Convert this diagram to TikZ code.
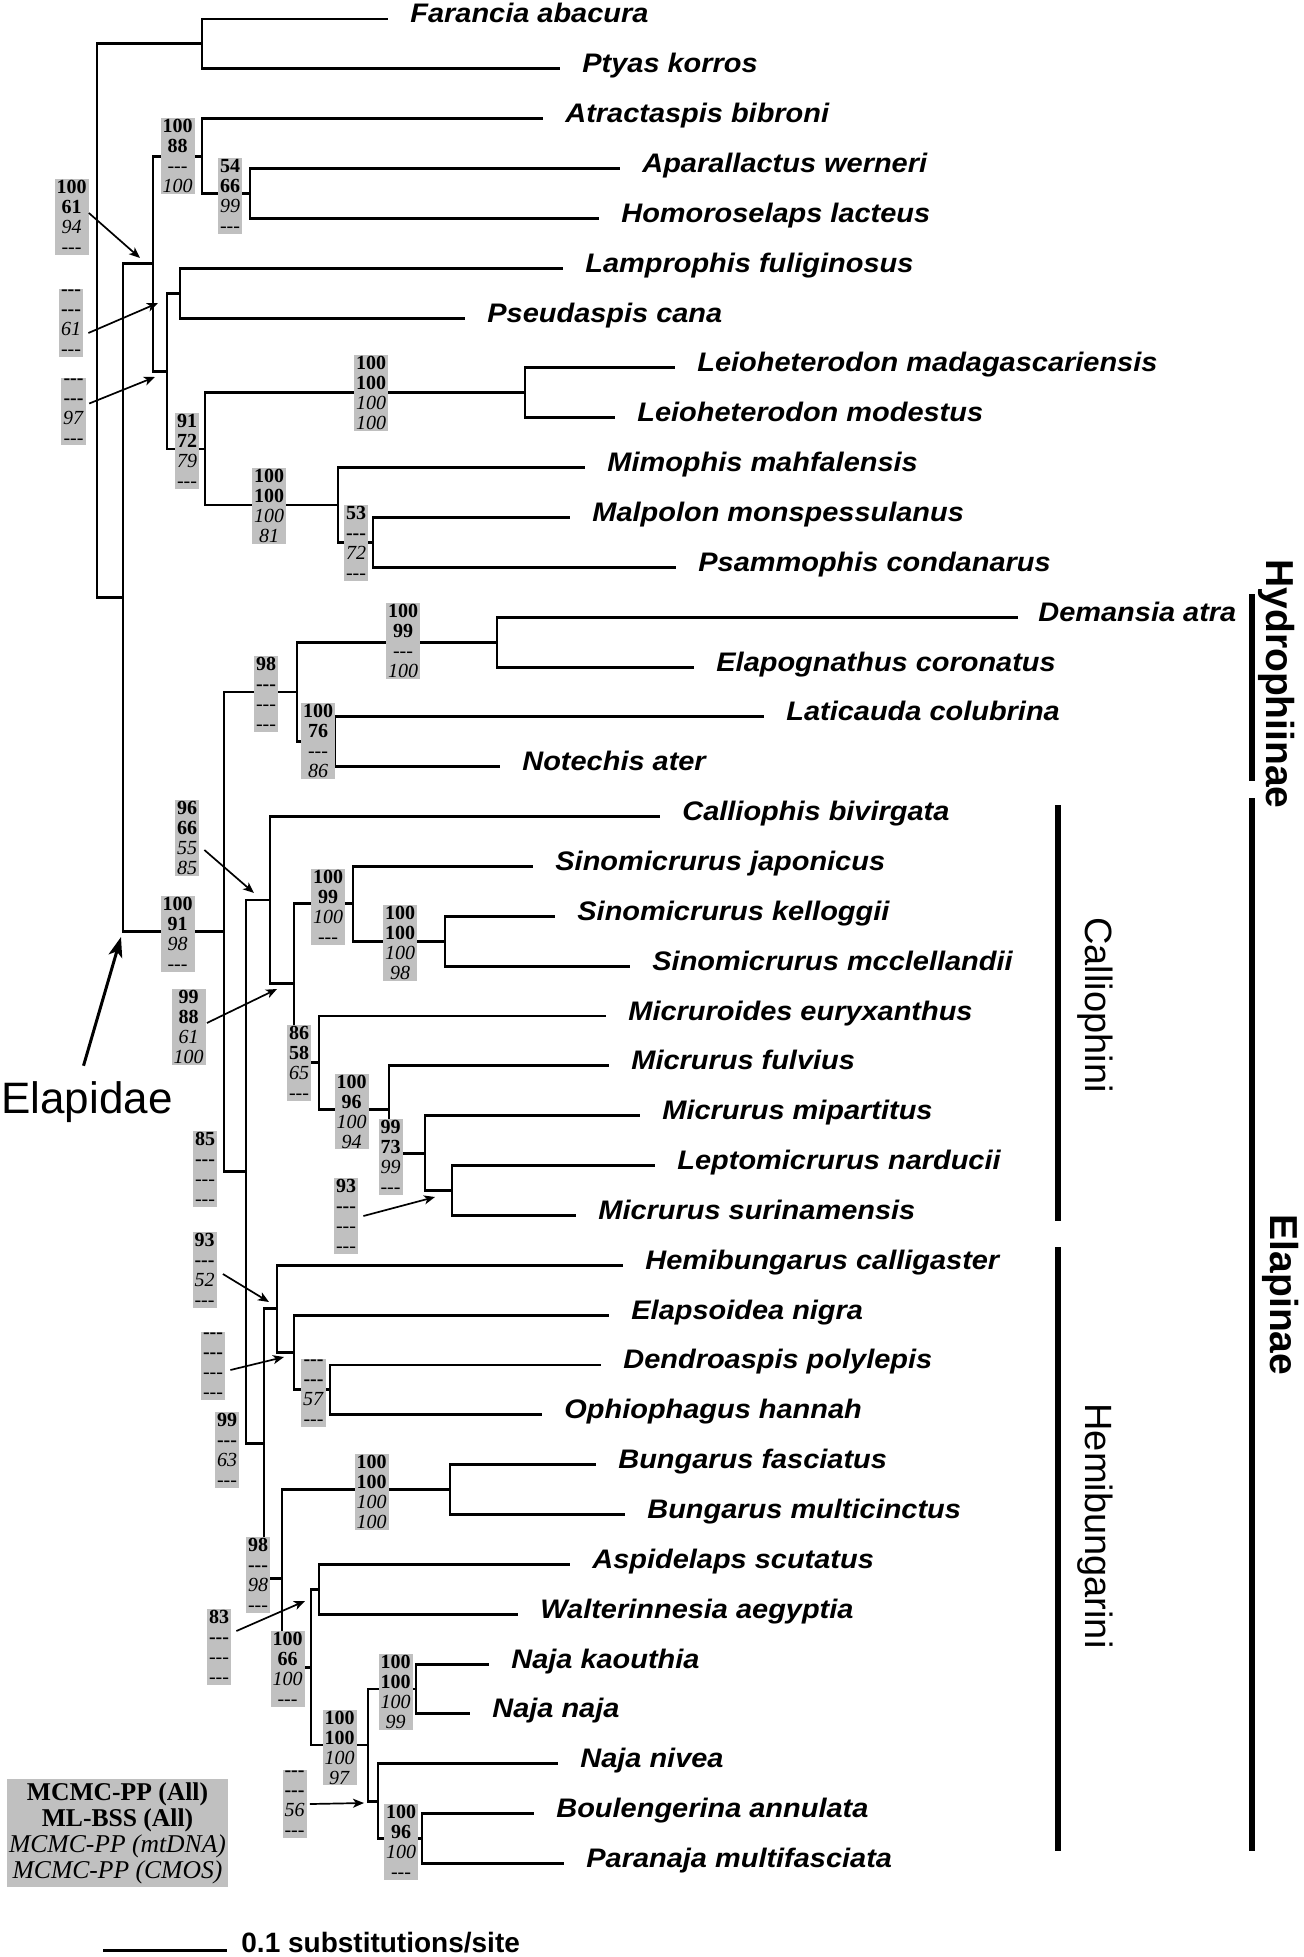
\documentclass[tikz,border=0pt]{standalone}
\usepackage{fontspec}
\setmainfont{Liberation Serif}
\newfontfamily\lsans{Liberation Sans}
\newfontfamily\tipsans{Liberation Sans}[FakeStretch=1.08]
\usetikzlibrary{arrows.meta}
\definecolor{boxgray}{RGB}{192,192,192}
\newcommand\dd{-\kern0pt-\kern0pt-}
\newcommand\tiplab[5]{%
  \coordinate (e#1) at (#2,#4);
  \node[tip] (t#1) at (#3,#4) {#5};}
\newcommand\bsbox[6]{\node[bs] (#1) at (#2) {\textbf{#3}\\\textbf{#4}\\\textit{#5}\\\textit{#6}};}
\tikzset{
  br/.style={line width=1.45pt, line join=miter},
  tip/.style={anchor=base west, yshift=-2pt, inner sep=0pt, font=\tipsans\bfseries\itshape\fontsize{13.4}{14}\selectfont},
  bs/.style={fill=boxgray, inner xsep=1pt, inner ysep=0.6pt, align=center, font=\fontsize{10}{10}\selectfont},
  sarrow/.style={line width=0.85pt, -{Stealth[length=5.5pt, width=4.5pt, inset=1.5pt]}},
  bigarrow/.style={line width=1.5pt, -{Stealth[length=10pt, width=7pt, inset=2.5pt]}},
  cbar/.style={line width=3pt},
  cladelab/.style={rotate=-90, anchor=base, inner sep=0pt, font=\lsans\fontsize{19}{20}\selectfont},
  cladelabb/.style={rotate=-90, anchor=base, inner sep=0pt, font=\lsans\bfseries\fontsize{19.5}{20}\selectfont},
}
\begin{document}
\begin{tikzpicture}[x=0.5pt, y=-0.5pt]
\useasboundingbox (0,0) rectangle (1304,1957);
% internal nodes
\coordinate (R) at (97,320.8);
\coordinate (FP) at (202,43.9);
\coordinate (N1) at (123,597.8);
\coordinate (NA) at (153,263.6);
\coordinate (Atr) at (202,156.1);
\coordinate (AH) at (250,193.5);
\coordinate (Lam) at (167,371.1);
\coordinate (LP) at (180,293.2);
\coordinate (LM) at (205,449);
\coordinate (Leio) at (525,392.9);
\coordinate (Psam) at (338,505);
\coordinate (MP) at (373,542.4);
\coordinate (E) at (224,931.9);
\coordinate (Hyd) at (297,692);
\coordinate (DE) at (497,642.1);
\coordinate (LN) at (335,741.8);
\coordinate (Elap) at (246,1171.8);
\coordinate (Call) at (270,900);
\coordinate (C2) at (294,983.3);
\coordinate (Sino) at (353,903.8);
\coordinate (SK) at (445,941.2);
\coordinate (Mic) at (319,1062.7);
\coordinate (MF) at (389,1109.5);
\coordinate (MM) at (425,1153.1);
\coordinate (LS) at (452,1190.5);
\coordinate (Hemi) at (264,1443.7);
\coordinate (H2) at (277,1308.9);
\coordinate (DO) at (294,1352.5);
\coordinate (DOp) at (330,1389.9);
\coordinate (H3) at (282,1578.4);
\coordinate (Bung) at (450,1489.6);
\coordinate (Naj) at (311,1667.2);
\coordinate (AW) at (319,1589.3);
\coordinate (N2) at (368,1745);
\coordinate (NK) at (416,1689);
\coordinate (N3) at (378,1801.1);
\coordinate (BP) at (422,1838.5);
% tips
\tiplab{0}{388}{410}{19}{Farancia abacura}
\tiplab{1}{560}{582}{68.85}{Ptyas korros}
\tiplab{2}{543}{565}{118.7}{Atractaspis bibroni}
\tiplab{3}{620}{642}{168.55}{Aparallactus werneri}
\tiplab{4}{599}{621}{218.4}{Homoroselaps lacteus}
\tiplab{5}{563}{585}{268.25}{Lamprophis fuliginosus}
\tiplab{6}{465}{487}{318.1}{Pseudaspis cana}
\tiplab{7}{675}{697}{367.95}{Leioheterodon madagascariensis}
\tiplab{8}{615}{637}{417.8}{Leioheterodon modestus}
\tiplab{9}{585}{607}{467.65}{Mimophis mahfalensis}
\tiplab{10}{570}{592}{517.5}{Malpolon monspessulanus}
\tiplab{11}{676}{698}{567.35}{Psammophis condanarus}
\tiplab{12}{1018}{1038}{617.2}{Demansia atra}
\tiplab{13}{694}{716}{667.05}{Elapognathus coronatus}
\tiplab{14}{764}{786}{716.9}{Laticauda colubrina}
\tiplab{15}{500}{522}{766.75}{Notechis ater}
\tiplab{16}{660}{682}{816.6}{Calliophis bivirgata}
\tiplab{17}{533}{555}{866.45}{Sinomicrurus japonicus}
\tiplab{18}{555}{577}{916.3}{Sinomicrurus kelloggii}
\tiplab{19}{630}{652}{966.15}{Sinomicrurus mcclellandii}
\tiplab{20}{606}{628}{1016}{Micruroides euryxanthus}
\tiplab{21}{609}{631}{1065.85}{Micrurus fulvius}
\tiplab{22}{640}{662}{1115.7}{Micrurus mipartitus}
\tiplab{23}{655}{677}{1165.55}{Leptomicrurus narducii}
\tiplab{24}{576}{598}{1215.4}{Micrurus surinamensis}
\tiplab{25}{623}{645}{1265.25}{Hemibungarus calligaster}
\tiplab{26}{609}{631}{1315.1}{Elapsoidea nigra}
\tiplab{27}{601}{623}{1364.95}{Dendroaspis polylepis}
\tiplab{28}{542}{564}{1414.8}{Ophiophagus hannah}
\tiplab{29}{596}{618}{1464.65}{Bungarus fasciatus}
\tiplab{30}{625}{647}{1514.5}{Bungarus multicinctus}
\tiplab{31}{570}{592}{1564.35}{Aspidelaps scutatus}
\tiplab{32}{518}{540}{1614.2}{Walterinnesia aegyptia}
\tiplab{33}{489}{511}{1664.05}{Naja kaouthia}
\tiplab{34}{470}{492}{1713.9}{Naja naja}
\tiplab{35}{558}{580}{1763.75}{Naja nivea}
\tiplab{36}{534}{556}{1813.6}{Boulengerina annulata}
\tiplab{37}{564}{586}{1863.45}{Paranaja multifasciata}
% branches
\draw[br] (R) |- (FP); \draw[br] (R) |- (N1);
\draw[br] (FP) |- (e0); \draw[br] (FP) |- (e1);
\draw[br] (N1) |- (NA); \draw[br] (N1) |- (E);
\draw[br] (NA) |- (Atr); \draw[br] (NA) |- (Lam);
\draw[br] (Atr) |- (e2); \draw[br] (Atr) |- (AH);
\draw[br] (AH) |- (e3); \draw[br] (AH) |- (e4);
\draw[br] (Lam) |- (LP); \draw[br] (Lam) |- (LM);
\draw[br] (LP) |- (e5); \draw[br] (LP) |- (e6);
\draw[br] (LM) |- (Leio); \draw[br] (LM) |- (Psam);
\draw[br] (Leio) |- (e7); \draw[br] (Leio) |- (e8);
\draw[br] (Psam) |- (e9); \draw[br] (Psam) |- (MP);
\draw[br] (MP) |- (e10); \draw[br] (MP) |- (e11);
\draw[br] (E) |- (Hyd); \draw[br] (E) |- (Elap);
\draw[br] (Hyd) |- (DE); \draw[br] (Hyd) |- (LN);
\draw[br] (DE) |- (e12); \draw[br] (DE) |- (e13);
\draw[br] (LN) |- (e14); \draw[br] (LN) |- (e15);
\draw[br] (Elap) |- (Call); \draw[br] (Elap) |- (Hemi);
\draw[br] (Call) |- (e16); \draw[br] (Call) |- (C2);
\draw[br] (C2) |- (Sino); \draw[br] (C2) |- (Mic);
\draw[br] (Sino) |- (e17); \draw[br] (Sino) |- (SK);
\draw[br] (SK) |- (e18); \draw[br] (SK) |- (e19);
\draw[br] (Mic) |- (e20); \draw[br] (Mic) |- (MF);
\draw[br] (MF) |- (e21); \draw[br] (MF) |- (MM);
\draw[br] (MM) |- (e22); \draw[br] (MM) |- (LS);
\draw[br] (LS) |- (e23); \draw[br] (LS) |- (e24);
\draw[br] (Hemi) |- (H2); \draw[br] (Hemi) |- (H3);
\draw[br] (H2) |- (e25); \draw[br] (H2) |- (DO);
\draw[br] (DO) |- (e26); \draw[br] (DO) |- (DOp);
\draw[br] (DOp) |- (e27); \draw[br] (DOp) |- (e28);
\draw[br] (H3) |- (Bung); \draw[br] (H3) |- (Naj);
\draw[br] (Bung) |- (e29); \draw[br] (Bung) |- (e30);
\draw[br] (Naj) |- (AW); \draw[br] (Naj) |- (N2);
\draw[br] (AW) |- (e31); \draw[br] (AW) |- (e32);
\draw[br] (N2) |- (NK); \draw[br] (N2) |- (N3);
\draw[br] (NK) |- (e33); \draw[br] (NK) |- (e34);
\draw[br] (N3) |- (e35); \draw[br] (N3) |- (BP);
\draw[br] (BP) |- (e36); \draw[br] (BP) |- (e37);
% support boxes
\bsbox{B1}{71.5,217}{100}{61}{94}{\dd}
\bsbox{B2}{71,323}{\dd}{\dd}{61}{\dd}
\bsbox{B3}{73.5,411.5}{\dd}{\dd}{97}{\dd}
\bsbox{B4}{177.5,156}{100}{88}{\dd}{100}
\bsbox{B5}{230,196}{54}{66}{99}{\dd}
\bsbox{B6}{187,451}{91}{72}{79}{\dd}
\bsbox{B7}{371,393}{100}{100}{100}{100}
\bsbox{B8}{269,506}{100}{100}{100}{81}
\bsbox{B9}{356,543}{53}{\dd}{72}{\dd}
\bsbox{B10}{403,641}{100}{99}{\dd}{100}
\bsbox{B11}{266,694}{98}{\dd}{\dd}{\dd}
\bsbox{B12}{318,741}{100}{76}{\dd}{86}
\bsbox{B13}{187,838}{96}{66}{55}{85}
\bsbox{B14}{177.5,934}{100}{91}{98}{\dd}
\bsbox{B15}{328,907}{100}{99}{100}{\dd}
\bsbox{B16}{400,943}{100}{100}{100}{98}
\bsbox{B17}{188.5,1027}{99}{88}{61}{100}
\bsbox{B18}{299,1063}{86}{58}{65}{\dd}
\bsbox{B19}{351.5,1111.5}{100}{96}{100}{94}
\bsbox{B20}{390.5,1157}{99}{73}{99}{\dd}
\bsbox{B21}{346,1216}{93}{\dd}{\dd}{\dd}
\bsbox{B22}{205,1169}{85}{\dd}{\dd}{\dd}
\bsbox{B23}{204.5,1270}{93}{\dd}{52}{\dd}
\bsbox{B24}{213,1366}{\dd}{\dd}{\dd}{\dd}
\bsbox{B25}{313.5,1393}{\dd}{\dd}{57}{\dd}
\bsbox{B26}{227,1450}{99}{\dd}{63}{\dd}
\bsbox{B27}{371.5,1492}{100}{100}{100}{100}
\bsbox{B28}{258,1575}{98}{\dd}{98}{\dd}
\bsbox{B29}{219,1647}{83}{\dd}{\dd}{\dd}
\bsbox{B30}{287.5,1669}{100}{66}{100}{\dd}
\bsbox{B31}{339.5,1747.5}{100}{100}{100}{97}
\bsbox{B32}{395.5,1692}{100}{100}{100}{99}
\bsbox{B33}{294.5,1804}{\dd}{\dd}{56}{\dd}
\bsbox{B34}{401,1842}{100}{96}{100}{\dd}
% arrow targets
\coordinate (a1) at (140,258);
\coordinate (a2) at (158,303);
\coordinate (a3) at (155,377);
\coordinate (a4) at (254,893);
\coordinate (a5) at (277,989);
\coordinate (a6) at (435,1197);
\coordinate (a7) at (269,1302);
\coordinate (a8) at (284,1357);
\coordinate (a9) at (305,1601);
\coordinate (a10) at (364,1803);
\draw[sarrow] ([xshift=0pt,yshift=2pt]B1.east) -- (a1);
\draw[sarrow] ([xshift=2.5pt,yshift=-5pt]B2.east) -- (a2);
\draw[sarrow] ([xshift=1.5pt,yshift=4pt]B3.east) -- (a3);
\draw[sarrow] ([xshift=2.5pt,yshift=-6pt]B13.east) -- (a4);
\draw[sarrow] ([xshift=0.5pt,yshift=2pt]B17.east) -- (a5);
\draw[sarrow] ([xshift=2.5pt]B21.east) -- (a6);
\draw[sarrow] ([xshift=3pt,yshift=-2pt]B23.east) -- (a7);
\draw[sarrow] ([xshift=2.5pt,yshift=-2pt]B24.east) -- (a8);
\draw[sarrow] ([xshift=2.5pt,yshift=8pt]B29.east) -- (a9);
\draw[sarrow] ([xshift=1.5pt]B33.east) -- (a10);
% Elapidae
\node[anchor=base west, inner sep=0pt, font=\lsans\fontsize{22}{24}\selectfont] (elab) at (1,1113) {Elapidae};
\coordinate (ea) at (121,937);
\draw[bigarrow] ([xshift=-1.75pt,yshift=7.5pt]elab.north) -- (ea);
% clade bars
\coordinate (hy1) at (1252,594); \coordinate (hy2) at (1252,781);
\coordinate (el1) at (1252,798); \coordinate (el2) at (1252,1851);
\coordinate (ca1) at (1058,805); \coordinate (ca2) at (1058,1221);
\coordinate (he1) at (1058,1247); \coordinate (he2) at (1058,1851);
\draw[cbar] (hy1) -- (hy2);
\draw[cbar] (el1) -- (el2);
\draw[cbar] (ca1) -- (ca2);
\draw[cbar] (he1) -- (he2);
\node[cladelabb] (lhy) at (1266,684) {Hydrophiinae};
\node[cladelabb] (lel) at (1270,1295) {Elapinae};
\node[cladelab] (lca) at (1085,1005) {Calliophini};
\node[cladelab] (lhe) at (1085,1526) {Hemibungarini};
% legend
\node[fill=boxgray, inner xsep=1pt, inner ysep=1.5pt, align=center, minimum width=109pt, font=\fontsize{12.8}{13}\selectfont] (leg) at (117.5,1833)
  {\textbf{MCMC-PP (All)}\\\textbf{ML-BSS (All)}\\\textit{MCMC-PP (mtDNA)}\\\textit{MCMC-PP (CMOS)}};
% scale bar
\coordinate (sb1) at (103,1950); \coordinate (sb2) at (227,1950);
\draw[line width=1.5pt] (sb1) -- (sb2);
\node[anchor=base west, inner sep=0pt, font=\lsans\bfseries\fontsize{14}{15}\selectfont] (sbt) at (241,1952) {0.1 substitutions/site};
\end{tikzpicture}
\end{document}
